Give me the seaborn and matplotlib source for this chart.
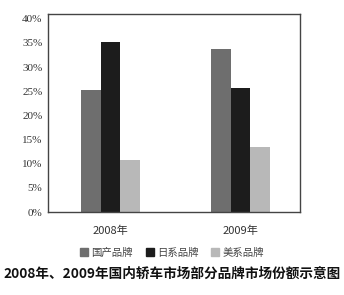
import pandas as pd
import matplotlib.pyplot as plt
import seaborn as sns

# chart data
years = ['2008年', '2009年']
brands = ['国产品牌', '日系品牌', '美系品牌']
share_domestic = [25.3, 33.8]
share_japan = [35.3, 25.7]
share_usa = [10.8, 13.4]
colors = ['#6e6e6e', '#1c1c1c', '#b8b8b8']

df = pd.DataFrame({
    'year': years * 3,
    'brand': [b for b in brands for _ in years],
    'share': share_domestic + share_japan + share_usa,
})

sns.set_style('white')
plt.rcParams['font.family'] = ['Noto Sans CJK SC', 'DejaVu Sans']

fig = plt.figure(figsize=(3.44, 2.95), dpi=100)
ax = fig.add_axes([48 / 344, 1 - 212 / 295, 252 / 344, 198 / 295])

sns.barplot(data=df, x='year', y='share', hue='brand', palette=colors,
            width=0.455, saturation=1, linewidth=0, edgecolor='none',
            ax=ax, legend=False)

ax.set_xlim(-0.48, 1.458)
ax.set_ylim(0, 41)
ax.set_yticks(range(0, 45, 5))
ax.set_yticklabels([f'{v}%' for v in range(0, 45, 5)],
                   family='Liberation Serif', fontsize=8, color='#333333')
ax.tick_params(axis='y', direction='in', length=6, width=1, color='#333333', pad=4)
ax.tick_params(axis='x', length=0, labelsize=8, pad=10, labelcolor='#333333')
ax.set_xlabel('')
ax.set_ylabel('')
for s in ax.spines.values():
    s.set_color('#444444')
    s.set_linewidth(1)

handles = [plt.Rectangle((0, 0), 1, 1, color=c) for c in colors]
fig.legend(handles, brands, loc='center', bbox_to_anchor=(172 / 344, 1 - 253 / 295),
           ncol=3, frameon=False, fontsize=7.5, handlelength=0.8, handleheight=0.8,
           handletextpad=0.3, columnspacing=1.2, labelcolor='#444444')

fig.text(172 / 344, 1 - 274 / 295, '2008年、2009年国内轿车市场部分品牌市场份额示意图',
         ha='center', va='center', fontsize=9.8, fontweight='bold', color='#111111')

fig.savefig('out.png', dpi=100, facecolor='white')
